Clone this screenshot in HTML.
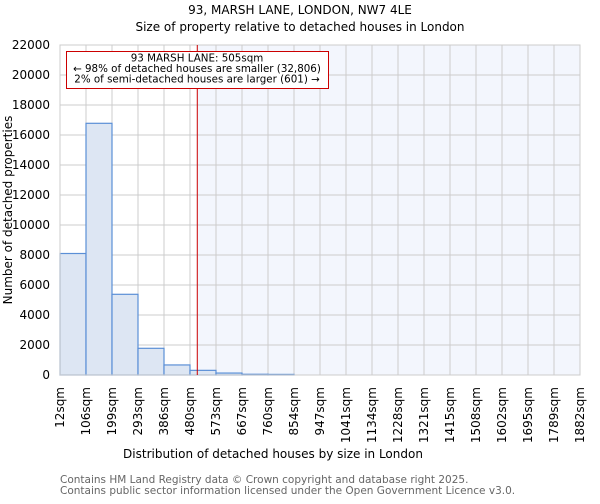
<!DOCTYPE html>
<html><head><meta charset="utf-8"><style>
body{margin:0;background:#fff;font-family:"DejaVu Sans","Liberation Sans",sans-serif;}
svg text{font-family:"DejaVu Sans","Liberation Sans",sans-serif;}
</style></head><body>
<svg id="chart" width="600" height="500" viewBox="0 0 600 500">
<text x="300" y="14" font-size="12" text-anchor="middle">93, MARSH LANE, LONDON, NW7 4LE</text>
<text x="300" y="31" font-size="12" text-anchor="middle">Size of property relative to detached houses in London</text>
<g id="plot"></g>
<text x="273" y="458" font-size="12" text-anchor="middle">Distribution of detached houses by size in London</text>
<text transform="translate(12,210) rotate(-90)" font-size="12" text-anchor="middle">Number of detached properties</text>
<text x="60" y="483" font-size="10.5" fill="#666">Contains HM Land Registry data © Crown copyright and database right 2025.</text>
<text x="60" y="494" font-size="10.5" fill="#666">Contains public sector information licensed under the Open Government Licence v3.0.</text>
</svg>
<script>
const binLabels=["12sqm","106sqm","199sqm","293sqm","386sqm","480sqm","573sqm","667sqm","760sqm","854sqm","947sqm","1041sqm","1134sqm","1228sqm","1321sqm","1415sqm","1508sqm","1602sqm","1695sqm","1789sqm","1882sqm"];
const counts=[8100,16780,5380,1780,670,310,130,50,40,0,0,0,0,0,0,0,0,0,0,0];
const yTicks=[0,2000,4000,6000,8000,10000,12000,14000,16000,18000,20000,22000];
const propertyBin=5.28;
const L=60,R=580,T=45,B=375,yMax=22000;
const nb=counts.length;
const xs=i=>L+(R-L)*i/nb;
const ys=v=>B-(B-T)*v/yMax;
const g=document.getElementById('plot');
const NS='http://www.w3.org/2000/svg';
function mk(t,a){const e=document.createElementNS(NS,t);for(const k in a)e.setAttribute(k,a[k]);g.appendChild(e);return e;}
const bg=mk('rect',{x:xs(propertyBin),y:T,width:R-xs(propertyBin),height:B-T,fill:'#f3f6fd'});


for(let i=0;i<=nb;i++){const l=mk('line',{x1:xs(i),x2:xs(i),y1:T,y2:B,stroke:'#cccccc','stroke-width':1});

}
yTicks.forEach(v=>{const l=mk('line',{x1:L,x2:R,y1:ys(v),y2:ys(v),stroke:'#cccccc','stroke-width':1});


const t=mk('text',{x:L-10,y:ys(v)+4,'font-size':12,'text-anchor':'end'});t.textContent=v;

});
counts.forEach((c,i)=>{if(c<=0)return;const r=mk('rect',{x:xs(i),y:ys(c),width:xs(i+1)-xs(i),height:B-ys(c),fill:'#dde6f3',stroke:'#5b8fd6','stroke-width':1.2});

});
binLabels.forEach((s,i)=>{const x=xs(i);const t=mk('text',{transform:`translate(${x+4},387) rotate(-90)`,'font-size':12,'text-anchor':'end'});t.textContent=s;

});
const ax=mk('rect',{x:L,y:T,width:R-L,height:B-T,fill:'none',stroke:'#cccccc'});


const px=xs(propertyBin);
const pl=mk('line',{x1:px,x2:px,y1:T,y2:B,stroke:'#cc0000','stroke-width':1});


const box=mk('rect',{x:66.5,y:51.5,width:262,height:37,fill:'#fff',stroke:'#cc0000','stroke-width':1});


["93 MARSH LANE: 505sqm","← 98% of detached houses are smaller (32,806)","2% of semi-detached houses are larger (601) →"].forEach((s,k)=>{const t=mk('text',{x:197,y:61.5+k*10.5,'font-size':10.3,'text-anchor':'middle'});t.textContent=s;

});
</script>
</body></html>
